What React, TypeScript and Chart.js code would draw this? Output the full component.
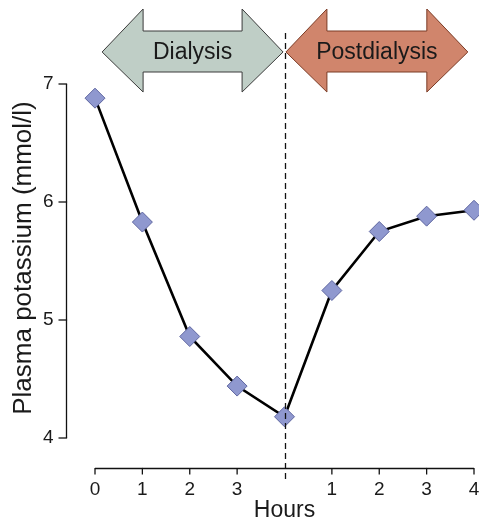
import React, { useEffect, useRef } from "react";
import { Chart, registerables } from "chart.js";

Chart.register(...registerables);

const hours = [0, 1, 2, 3, 4, 5, 6, 7, 8];
const tickLabels = ["0", "1", "2", "3", "", "1", "2", "3", "4"];
const potassium = [6.88, 5.83, 4.86, 4.44, 4.18, 5.25, 5.75, 5.88, 5.93];
const yTicks = [4, 5, 6, 7];
const phaseNames = ["Dialysis", "Postdialysis"];
const phaseStart = [0.15, 4.03];
const phaseEnd = [3.97, 7.87];
const phaseFill = ["#BFCEC6", "#D0856C"];
const phaseStroke = ["#3a3a3a", "#7a3a24"];
const dividerHour = 4;

const FONT = "'Liberation Sans', Arial, Helvetica, sans-serif";

const decor = {
  id: "decor",
  afterDatasetsDraw(chart: any) {
    const { ctx, chartArea, scales } = chart;
    const xs = scales.x;
    const ys = scales.y;
    ctx.save();

    // dashed divider
    const dx = Math.round(xs.getPixelForValue(dividerHour)) + 0.5;
    ctx.strokeStyle = "#111";
    ctx.lineWidth = 1.3;
    ctx.setLineDash([6, 4]);
    ctx.beginPath();
    ctx.moveTo(dx, chartArea.top - 51);
    ctx.lineTo(dx, chartArea.bottom + 44);
    ctx.stroke();
    ctx.setLineDash([]);

    // arrows
    const yTop = chartArea.top - 75;
    const yBodyTop = chartArea.top - 53;
    const yMid = chartArea.top - 32;
    const yBodyBot = chartArea.top - 12;
    const yBot = chartArea.top + 8;
    const head = 41;
    for (let i = 0; i < phaseNames.length; i++) {
      const l = xs.getPixelForValue(phaseStart[i]);
      const r = xs.getPixelForValue(phaseEnd[i]);
      ctx.beginPath();
      ctx.moveTo(l, yMid);
      ctx.lineTo(l + head, yTop);
      ctx.lineTo(l + head, yBodyTop);
      ctx.lineTo(r - head, yBodyTop);
      ctx.lineTo(r - head, yTop);
      ctx.lineTo(r, yMid);
      ctx.lineTo(r - head, yBot);
      ctx.lineTo(r - head, yBodyBot);
      ctx.lineTo(l + head, yBodyBot);
      ctx.lineTo(l + head, yBot);
      ctx.closePath();
      ctx.fillStyle = phaseFill[i];
      ctx.fill();
      ctx.strokeStyle = phaseStroke[i];
      ctx.lineWidth = 1;
      ctx.stroke();
      ctx.fillStyle = "#1a1a1a";
      ctx.font = `23px ${FONT}`;
      ctx.textAlign = "center";
      ctx.textBaseline = "middle";
      ctx.fillText(phaseNames[i], (l + r) / 2, yMid + 1);
    }

    // y axis
    const ax = chartArea.left - 28.5;
    ctx.strokeStyle = "#111";
    ctx.lineWidth = 1.3;
    ctx.beginPath();
    ctx.moveTo(ax, ys.getPixelForValue(yTicks[0]));
    ctx.lineTo(ax, ys.getPixelForValue(yTicks[yTicks.length - 1]));
    ctx.stroke();
    ctx.font = `19px ${FONT}`;
    ctx.fillStyle = "#1a1a1a";
    ctx.textAlign = "right";
    ctx.textBaseline = "middle";
    for (const v of yTicks) {
      const py = ys.getPixelForValue(v);
      ctx.beginPath();
      ctx.moveTo(ax - 8, py);
      ctx.lineTo(ax + 0.6, py);
      ctx.stroke();
      ctx.fillText(String(v), ax - 13, py);
    }

    // x axis
    const ay = chartArea.bottom + 30.5;
    ctx.beginPath();
    ctx.moveTo(xs.getPixelForValue(hours[0]), ay);
    ctx.lineTo(xs.getPixelForValue(hours[hours.length - 1]), ay);
    ctx.stroke();
    ctx.textAlign = "center";
    ctx.textBaseline = "middle";
    for (let i = 0; i < hours.length; i++) {
      const px = xs.getPixelForValue(hours[i]);
      if (hours[i] !== dividerHour) {
        ctx.beginPath();
        ctx.moveTo(px, ay - 0.6);
        ctx.lineTo(px, ay + 6);
        ctx.stroke();
      }
      if (tickLabels[i]) ctx.fillText(tickLabels[i], px, ay + 21);
    }

    // titles
    ctx.font = `23px ${FONT}`;
    ctx.fillText("Hours", xs.getPixelForValue(dividerHour), ay + 42);
    ctx.save();
    ctx.translate(24, (ys.getPixelForValue(4) + ys.getPixelForValue(7)) / 2 - 3);
    ctx.rotate(-Math.PI / 2);
    ctx.font = `26px ${FONT}`;
    ctx.fillText("Plasma potassium (mmol/l)", 0, 0);
    ctx.restore();

    ctx.restore();
  },
};

export default function App() {
  const ref = useRef<HTMLCanvasElement | null>(null);
  useEffect(() => {
    if (!ref.current) return;
    const chart = new Chart(ref.current, {
      type: "line",
      data: {
        datasets: [
          {
            data: hours.map((h, i) => ({ x: h, y: potassium[i] })),
            borderColor: "#000",
            borderWidth: 2.6,
            pointStyle: "rectRot",
            pointRadius: 10,
            pointBackgroundColor: "#8F98CF",
            pointBorderColor: "#5E66A0",
            pointBorderWidth: 1,
            tension: 0,
            clip: false as any,
          },
        ],
      },
      options: {
        responsive: false,
        animation: false,
        layout: { autoPadding: false, padding: { left: 95, right: 5, top: 84, bottom: 85 } },
        plugins: { legend: { display: false }, tooltip: { enabled: false } },
        scales: {
          x: { type: "linear", min: 0, max: 8, display: false },
          y: { type: "linear", min: 4, max: 7, display: false },
        },
      },
      plugins: [decor],
    });
    return () => chart.destroy();
  }, []);
  return (
    <div style={{ position: "fixed", left: 0, top: 0, width: 479, height: 523, background: "#fff" }}>
      <canvas ref={ref} width={479} height={523} />
    </div>
  );
}
